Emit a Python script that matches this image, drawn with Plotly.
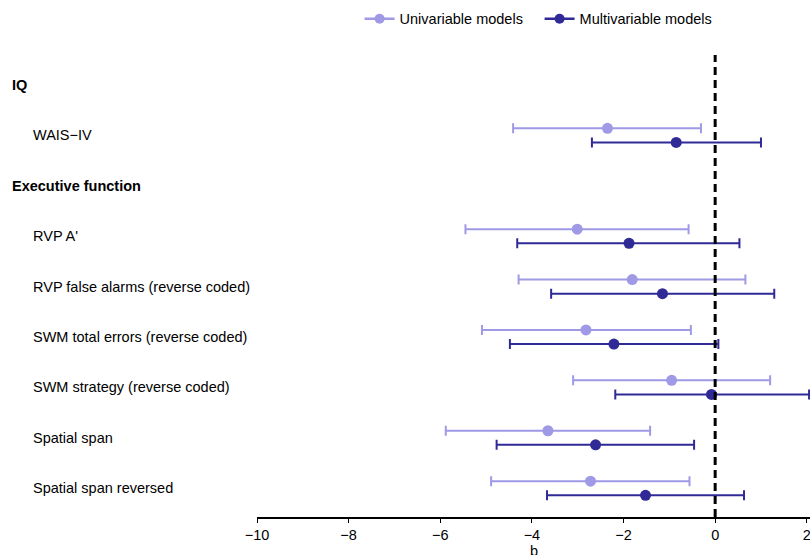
import plotly.graph_objects as go

# Rows (top to bottom); headers have no data
row_labels = ["IQ", "WAIS\u2212IV", "Executive function", "RVP A'",
              "RVP false alarms (reverse coded)", "SWM total errors (reverse coded)",
              "SWM strategy (reverse coded)", "Spatial span", "Spatial span reversed"]
row_is_header = [True, False, True, False, False, False, False, False, False]

# Data rows (indices into row_labels)
data_rows = [1, 3, 4, 5, 6, 7, 8]

uni_est = [-2.35, -3.01, -1.81, -2.82, -0.95, -3.65, -2.72]
uni_lo = [-4.41, -5.45, -4.29, -5.09, -3.10, -5.88, -4.89]
uni_hi = [-0.31, -0.58, 0.66, -0.53, 1.20, -1.42, -0.56]

multi_est = [-0.85, -1.88, -1.15, -2.21, -0.08, -2.61, -1.52]
multi_lo = [-2.69, -4.32, -3.58, -4.48, -2.18, -4.77, -3.67]
multi_hi = [1.00, 0.53, 1.29, 0.07, 2.05, -0.46, 0.63]

x_ticks = [-10, -8, -6, -4, -2, 0, 2]
x_title = "b"

UNI_COL = "#9f99e6"
MULTI_COL = "#2f2a96"
OFF = 0.14
FS = 14.5

fig = go.Figure()


def add_series(est, lo, hi, off, color, name):
    fig.add_trace(go.Scatter(
        x=est, y=[r + off for r in data_rows], mode="markers",
        name=name, showlegend=False,
        marker=dict(color=color, size=11),
        error_x=dict(type="data", symmetric=False,
                     array=[h - e for h, e in zip(hi, est)],
                     arrayminus=[e - l for e, l in zip(est, lo)],
                     color=color, thickness=2, width=5),
        cliponaxis=False,
    ))


add_series(uni_est, uni_lo, uni_hi, -OFF, UNI_COL, "Univariable models")
add_series(multi_est, multi_lo, multi_hi, OFF, MULTI_COL, "Multivariable models")
# legend-only entries
for name, color in [("Univariable models", UNI_COL), ("Multivariable models", MULTI_COL)]:
    fig.add_trace(go.Scatter(x=[None], y=[None], mode="lines+markers", name=name,
                             line=dict(color=color, width=2.5),
                             marker=dict(color=color, size=10)))

fig.add_shape(type="line", x0=0, x1=0, y0=0, y1=1, xref="x", yref="paper",
              line=dict(color="black", width=3, dash="8px,5px"))

FIG_W, FIG_H = 810, 555
PLOT_L = 257
PLOT_B = 517
PLOT_T = 55
PLOT_W = FIG_W - PLOT_L
PLOT_H = PLOT_B - PLOT_T
for i, (lab, hdr) in enumerate(zip(row_labels, row_is_header)):
    px = 10 if hdr else 31
    fig.add_annotation(x=(px - PLOT_L) / PLOT_W, xref="paper", y=i, yref="y",
                       text=f"<b>{lab}</b>" if hdr else lab, showarrow=False,
                       xanchor="left", yanchor="middle",
                       font=dict(size=FS, color="black"))

# axis title, placed just below the tick labels
fig.add_annotation(x=0.5, xref="paper", y=(PLOT_B - 541) / PLOT_H, yref="paper",
                   text=x_title, showarrow=False, xanchor="center", yanchor="top",
                   font=dict(size=FS, color="black"))

fig.update_layout(
    width=FIG_W, height=FIG_H,
    margin=dict(l=PLOT_L, r=0, t=PLOT_T, b=FIG_H - PLOT_B, autoexpand=False),
    plot_bgcolor="white", paper_bgcolor="white",
    font=dict(family="Liberation Sans, Arial, sans-serif", size=FS, color="black"),
    showlegend=True,
    legend=dict(orientation="h", x=0.511, xanchor="center", y=0.995, yref="container",
                yanchor="top", font=dict(size=FS), entrywidth=135,
                entrywidthmode="pixels", bgcolor="rgba(0,0,0,0)"),
    xaxis=dict(range=[-10, 2.07], tickvals=x_ticks, automargin=False,
               ticktext=[("\u2212" + str(abs(v))) if v < 0 else str(v) for v in x_ticks],
               showgrid=False, zeroline=False, showline=True, linecolor="black",
               linewidth=1.5, ticks="outside", ticklen=4, tickwidth=1.2,
               tickcolor="black", tickfont=dict(size=FS), ticklabeloverflow="allow"),
    yaxis=dict(range=[8.571, -0.595], showgrid=False, zeroline=False,
               showticklabels=False, showline=False, ticks=""),
)

fig.write_html("out.html", config={"displayModeBar": False},
               post_script="document.body.style.margin='0';"
                           "document.body.style.overflow='hidden';")
